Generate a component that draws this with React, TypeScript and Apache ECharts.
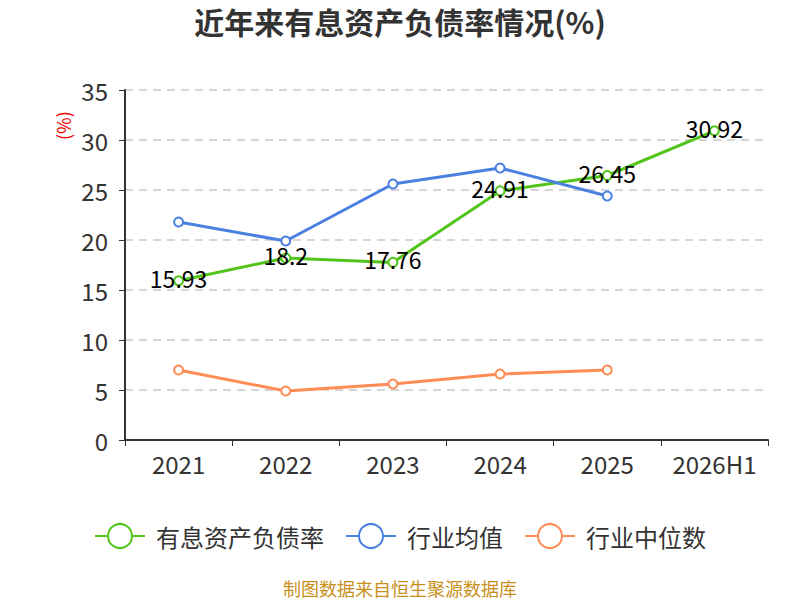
import React, { useEffect, useRef } from "react";
import * as echarts from "echarts";

const categories = ["2021", "2022", "2023", "2024", "2025", "2026H1"];
const debtRatio = [15.93, 18.2, 17.76, 24.91, 26.45, 30.92];
const industryAvg = [21.8, 19.9, 25.6, 27.2, 24.4, null];
const industryMedian = [7.0, 4.9, 5.6, 6.6, 7.0, null];

const FONT = "'Noto Sans CJK SC', 'Noto Sans', sans-serif";

export default function App() {
  const ref = useRef<HTMLDivElement>(null);
  useEffect(() => {
    const chart = echarts.init(ref.current!, undefined, { renderer: "svg" });
    const mkSeries = (name: string, data: any[], color: string, label: boolean) => ({
      name,
      type: "line",
      data,
      symbol: "emptyCircle",
      symbolSize: 9,
      lineStyle: { width: 3, color },
      itemStyle: { color, borderWidth: 1.5 },
      label: label
        ? { show: true, position: "inside", offset: [0, -3], color: "#000", fontSize: 23, fontFamily: FONT }
        : { show: false },
    });
    chart.setOption({
      animation: false,
      textStyle: { fontFamily: FONT },
      title: {
        text: "近年来有息资产负债率情况(%)",
        left: "center",
        top: 1,
        textStyle: { fontSize: 30, fontWeight: "bold", color: "#333", fontFamily: FONT },
      },
      grid: { left: 125, right: 32, top: 90, bottom: 160 },
      legend: {
        top: 518,
        left: "center",
        itemWidth: 50,
        itemHeight: 30,
        itemGap: 21,
        textStyle: { fontSize: 24, color: "#333", fontFamily: FONT, padding: [0, 0, 0, 6] },
        data: ["有息资产负债率", "行业均值", "行业中位数"],
      },
      xAxis: {
        type: "category",
        data: categories,
        axisLine: { lineStyle: { color: "#333", width: 2 } },
        axisTick: { show: true, alignWithLabel: false, interval: 0, length: 6, lineStyle: { color: "#333" } },
        axisLabel: { interval: 0, fontSize: 24, color: "#333", margin: 11, fontFamily: FONT },
      },
      yAxis: {
        type: "value",
        min: 0,
        max: 35,
        interval: 5,
        axisLine: { show: true, lineStyle: { color: "#333", width: 2 } },
        axisTick: { show: true, length: 6, lineStyle: { color: "#333" } },
        axisLabel: { fontSize: 24, color: "#333", margin: 17, fontFamily: FONT },
        splitLine: { lineStyle: { type: [8, 6], color: "#c8c8c8", width: 1.5 } },
      },
      graphic: [
        {
          type: "text",
          x: 54,
          y: 140,
          rotation: Math.PI / 2,
          style: { text: "(%)", fill: "#e00", fontSize: 18, fontFamily: FONT },
        },
        {
          type: "text",
          x: 400,
          y: 588,
          style: {
            text: "制图数据来自恒生聚源数据库",
            fill: "#c8901a",
            fontSize: 18,
            fontFamily: FONT,
            align: "center",
            verticalAlign: "middle",
          },
        },
      ],
      series: [
        mkSeries("有息资产负债率", debtRatio, "#52c41a", true),
        mkSeries("行业均值", industryAvg, "#4a80e0", false),
        mkSeries("行业中位数", industryMedian, "#ff8c55", false),
      ],
    });
    return () => chart.dispose();
  }, []);
  return (
    <div
      ref={ref}
      style={{ position: "fixed", left: 0, top: 0, width: 800, height: 600, background: "#fff" }}
    />
  );
}
